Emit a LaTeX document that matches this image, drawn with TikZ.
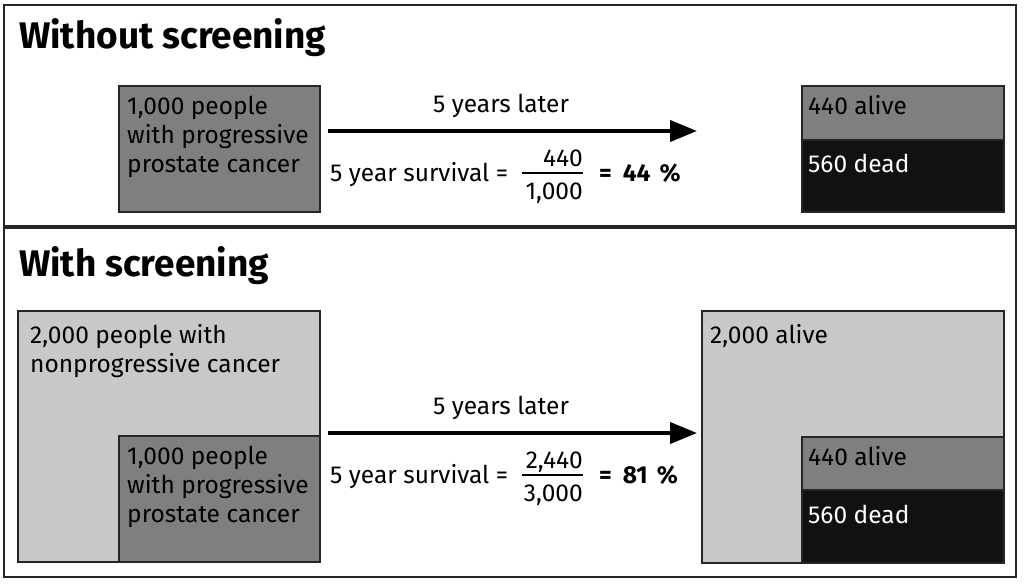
\documentclass[tikz,border=0pt]{standalone}
\usepackage{fontspec}
\setmainfont{Fira Sans}
\usetikzlibrary{arrows.meta}
\definecolor{lightg}{HTML}{C8C8C8}
\definecolor{midg}{HTML}{7F7F7F}
\definecolor{darkb}{HTML}{111111}
\begin{document}
\begin{tikzpicture}[x=1pt,y=-1pt,
  frame/.style={draw=black!85, line width=2pt},
  boxs/.style={draw=black!85, line width=1.6pt, anchor=north west, inner sep=0pt},
  txt/.style={font=\fontsize{24.5}{29}\selectfont, inner sep=0pt, align=left},
  btxt/.style={font=\fontsize{24.5}{29}\selectfont\bfseries, inner sep=0pt},
  ttl/.style={font=\fontsize{37}{42}\selectfont\bfseries, inner sep=0pt},
  arr/.style={line width=4pt, -{Triangle[length=27pt,width=21pt]}},
  bar/.style={line width=1.5pt}
]
\useasboundingbox (0,0) rectangle (1024,584);
\fill[white] (0,0) rectangle (1024,584);
% frames
\draw[frame] (4,5) rectangle (1016,226);
\draw[frame] (4,228) rectangle (1016,577);

%% ---------- Without screening ----------
\node[ttl, anchor=base west] (t1) at (19,48) {Without screening};
\node[boxs, fill=midg, minimum width=201pt, minimum height=126pt] (p1) at (118,85) {};
\node[txt, anchor=base west] (p1t) at (127,172) {1,000 people\\with progressive\\prostate cancer};

\node[boxs, fill=midg, minimum width=202pt, minimum height=54pt] (a1) at (801,85) {};
\node[boxs, fill=darkb, minimum width=202pt, minimum height=72pt] (d1) at (801,139) {};
\node[txt, anchor=base west] (a1t) at (808,114) {440 alive};
\node[txt, anchor=base west, text=white] (d1t) at (808,172) {560 dead};

\coordinate (s1) at (328,131);
\coordinate (e1) at (697,131);
\draw[arr] (s1) -- (e1);
\node[txt, anchor=base] (l1) at (501,112) {5 years later};
\node[txt, anchor=base west] (q1) at (330,181) {5 year survival =};
\node[txt, anchor=base east] (n1) at (583,166) {440};
\node[txt, anchor=base east] (m1) at (583,199) {1,000};
\draw[bar] (522,173) -- (583,173);
\node[btxt, anchor=base west] (r1) at (599,181) {=\hspace{11pt}44\hspace{9pt}\%};

%% ---------- With screening ----------
\node[ttl, anchor=base west] (t2) at (19,276) {With screening};
\node[boxs, fill=lightg, minimum width=302pt, minimum height=251pt] (n2) at (17,310) {};
\node[boxs, fill=midg, minimum width=201pt, minimum height=126pt] (p2) at (118,435) {};
\node[txt, anchor=base west] (n2t) at (30,372) {2,000 people with\\nonprogressive cancer};
\node[txt, anchor=base west] (p2t) at (127,522) {1,000 people\\with progressive\\prostate cancer};

\node[boxs, fill=lightg, minimum width=302pt, minimum height=252pt] (b2) at (701,310) {};
\node[boxs, fill=midg, minimum width=202pt, minimum height=53pt] (a2) at (801,436) {};
\node[boxs, fill=darkb, minimum width=202pt, minimum height=73pt] (d2) at (801,489) {};
\node[txt, anchor=base west] (b2t) at (710,343) {2,000 alive};
\node[txt, anchor=base west] (a2t) at (808,465) {440 alive};
\node[txt, anchor=base west, text=white] (d2t) at (808,523) {560 dead};

\coordinate (s2) at (328,433);
\coordinate (e2) at (697,433);
\draw[arr] (s2) -- (e2);
\node[txt, anchor=base] (l2) at (501,414) {5 years later};
\node[txt, anchor=base west] (q2) at (330,483) {5 year survival =};
\node[txt, anchor=base east] (n2n) at (583,468) {2,440};
\node[txt, anchor=base east] (m2) at (583,501) {3,000};
\draw[bar] (522,475) -- (583,475);
\node[btxt, anchor=base west] (r2) at (599,483) {=\hspace{11pt}81\hspace{9pt}\%};
\end{tikzpicture}
\end{document}
